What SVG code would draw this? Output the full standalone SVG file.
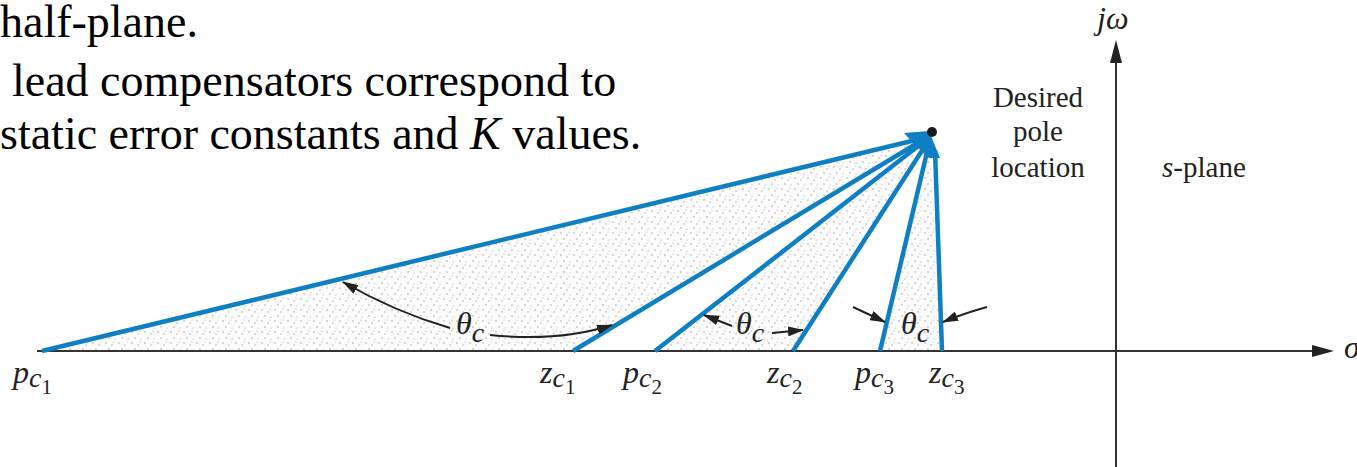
<svg xmlns="http://www.w3.org/2000/svg" width="1357" height="467" viewBox="0 0 1357 467">
<style>
.body{font-family:"Liberation Serif","Times New Roman",serif;font-size:46px;fill:#000}
.lbl{font-family:"Liberation Serif","Times New Roman",serif;font-size:29px;fill:#222}
.m{font-family:"Liberation Serif","Times New Roman",serif;font-style:italic;font-size:32px;fill:#222}
.sub{font-size:28px}
.sub2{font-size:21px;font-style:normal}
.axis{stroke:#333;stroke-width:2;fill:none}
.ray{stroke:#0f7fc4;stroke-width:4.5;fill:none}
.ann{stroke:#222;stroke-width:2;fill:none}
.shade{fill:url(#dots)}
</style>
<defs>
<pattern id="dots" width="13" height="11" patternUnits="userSpaceOnUse">
<rect width="13" height="11" fill="#fbfbfb"/>
<circle cx="2" cy="2" r="0.65" fill="#959595"/>
<circle cx="8" cy="4" r="0.65" fill="#a0a0a0"/>
<circle cx="5" cy="8" r="0.65" fill="#909090"/>
<circle cx="11" cy="9" r="0.6" fill="#a8a8a8"/>
<circle cx="10" cy="1" r="0.55" fill="#ababab"/>
</pattern>
<marker id="ah" viewBox="0 0 16 10" refX="15" refY="5" markerWidth="16" markerHeight="10" markerUnits="userSpaceOnUse" orient="auto">
<path d="M0,0 L16,5 L0,10 Z" fill="#222"/>
</marker>
</defs>

<g id="text-block">
<text class="body" x="0" y="37">half-plane.</text>
<text class="body" x="12" y="96">lead compensators correspond to</text>
<text class="body" x="0" y="149">static error constants and <tspan font-style="italic">K</tspan> values.</text>
</g>

<g id="shading">
<polygon class="shade" points="42,350 573,350 922,140"/>
<polygon class="shade" points="655,350 793,350 924,143"/>
<polygon class="shade" points="880,350 942,350 930,148"/>
</g>

<g id="axes">
<line class="axis" x1="37" y1="351" x2="1315" y2="351"/>
<polygon points="1312,345 1334,351 1312,357" fill="#222"/>
<line class="axis" x1="1116" y1="467" x2="1116" y2="60"/>
<polygon points="1110,63 1116,40 1122,63" fill="#222"/>
</g>

<g id="connectors">
<line class="ray" x1="42" y1="351" x2="920" y2="139"/>
<line class="ray" x1="573" y1="351" x2="921" y2="141"/>
<line class="ray" x1="655" y1="351" x2="922" y2="143"/>
<line class="ray" x1="793" y1="351" x2="925" y2="146"/>
<line class="ray" x1="880" y1="351" x2="928" y2="148"/>
<line class="ray" x1="942" y1="351" x2="935" y2="150"/>
<polygon points="904,133 929,131 940,158 929,158 916,146" fill="#0f7fc4"/>
<path class="ann" d="M450,328 Q395,312 343,282" marker-end="url(#ah)"/>
<path class="ann" d="M490,335 Q560,342 612,325" marker-end="url(#ah)"/>
<line class="ann" x1="732" y1="326" x2="704" y2="315" marker-end="url(#ah)"/>
<line class="ann" x1="772" y1="333" x2="803" y2="330" marker-end="url(#ah)"/>
<line class="ann" x1="853" y1="307" x2="885" y2="322" marker-end="url(#ah)"/>
<path class="ann" d="M987,307 Q962,314 943,322" marker-end="url(#ah)"/>
</g>

<g id="pole">
<circle cx="932" cy="132" r="5" fill="#1a1a1a"/>
<text class="lbl" text-anchor="middle" x="1038" y="107">Desired</text>
<text class="lbl" text-anchor="middle" x="1038" y="141">pole</text>
<text class="lbl" text-anchor="middle" x="1038" y="177">location</text>
</g>

<g id="axis-labels">
<text class="m" x="1097" y="29" font-size="28">jω</text>
<text class="lbl" x="1162" y="177"><tspan font-style="italic">s</tspan>-plane</text>
<text class="m" x="1344" y="358">σ</text>
</g>

<g id="theta-labels">
<text class="m" x="456" y="334">θ<tspan class="sub" dy="8">c</tspan></text>
<text class="m" x="736" y="334">θ<tspan class="sub" dy="8">c</tspan></text>
<text class="m" x="901" y="334">θ<tspan class="sub" dy="8">c</tspan></text>
</g>

<g id="point-labels">
<text class="m" x="13" y="383">p<tspan class="sub" dy="4">c</tspan><tspan class="sub2" dy="7">1</tspan></text>
<text class="m" x="540" y="383">z<tspan class="sub" dy="4">c</tspan><tspan class="sub2" dy="7">1</tspan></text>
<text class="m" x="623" y="383">p<tspan class="sub" dy="4">c</tspan><tspan class="sub2" dy="7">2</tspan></text>
<text class="m" x="767" y="383">z<tspan class="sub" dy="4">c</tspan><tspan class="sub2" dy="7">2</tspan></text>
<text class="m" x="855" y="383">p<tspan class="sub" dy="4">c</tspan><tspan class="sub2" dy="7">3</tspan></text>
<text class="m" x="929" y="383">z<tspan class="sub" dy="4">c</tspan><tspan class="sub2" dy="7">3</tspan></text>
</g>
</svg>
